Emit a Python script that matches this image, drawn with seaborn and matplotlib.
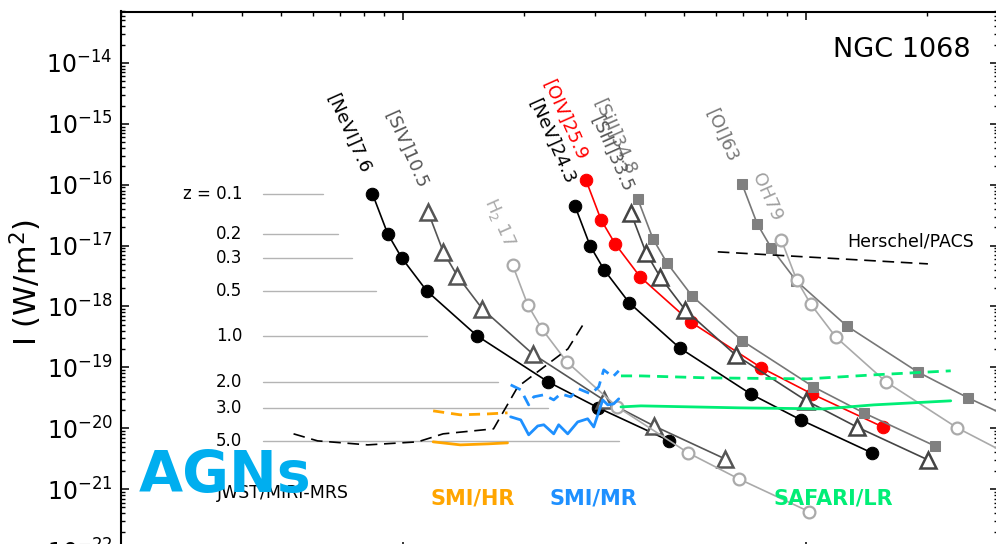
import numpy as np
import matplotlib
matplotlib.use("Agg")
import matplotlib.pyplot as plt
import matplotlib.ticker as mticker
import seaborn as sns

# ---------------------------------------------------------------- data
# redshifts sampled for every emission line
redshifts = [0.1, 0.2, 0.3, 0.5, 1.0, 2.0, 3.0, 5.0]
z_labels = ["z = 0.1", "0.2", "0.3", "0.5", "1.0", "2.0", "3.0", "5.0"]

# rest wavelengths (micron)
rest_wl = {
    "[NeVI]7.6": 7.65, "[SIV]10.5": 10.51, "H2 17": 17.03, "[NeV]24.3": 24.32,
    "[OIV]25.9": 25.89, "[SIII]33.5": 33.48, "[SiII]34.8": 34.82,
    "[OI]63": 63.18, "OH79": 79.1,
}

# line fluxes of NGC 1068 moved to each redshift (W/m^2)
nevi_7p6 = [7.06e-17, 1.56e-17, 6.28e-18, 1.80e-18, 3.29e-19, 5.78e-20, 2.16e-20, 6.21e-21]
siv_10p5 = [3.57e-17, 7.87e-18, 3.18e-18, 9.12e-19, 1.66e-19, 2.92e-20, 1.09e-20, 3.14e-21]
h2_17 = [4.82e-18, 1.06e-18, 4.29e-19, 1.23e-19, 2.24e-20, 3.94e-21, 1.48e-21, 4.24e-22]
nev_24p3 = [4.49e-17, 9.89e-18, 3.99e-18, 1.15e-18, 2.09e-19, 3.67e-20, 1.37e-20, 3.94e-21]
oiv_25p9 = [1.20e-16, 2.64e-17, 1.07e-17, 3.06e-18, 5.58e-19, 9.82e-20, 3.67e-20, 1.05e-20]
siii_33p5 = [3.44e-17, 7.59e-18, 3.06e-18, 8.79e-19, 1.60e-19, 2.82e-20, 1.05e-20, 3.03e-21]
siii_34p8 = [5.85e-17, 1.29e-17, 5.20e-18, 1.49e-18, 2.72e-19, 4.79e-20, 1.79e-20, 5.14e-21]
oi_63 = [1.03e-16, 2.27e-17, 9.16e-18, 2.63e-18, 4.80e-19, 8.43e-20, 3.16e-20, 9.06e-21]
oh_79 = [1.24e-17, 2.74e-18, 1.10e-18, 3.17e-19, 5.78e-20, 1.02e-20, 3.80e-21, 1.09e-21]

# redshift guide lines (start / end wavelength, micron)
guide_start = 4.5
guide_end = [6.33, 6.9, 7.47, 8.6, 11.5, 17.2, 23.0, 34.4]

# instrument sensitivities
miri_wl = [5.36, 6.15, 8.19, 10.9, 12.6, 16.8, 19.3, 25.7, 28.1]
miri_flux = [8.09e-21, 6.2e-21, 5.33e-21, 5.98e-21, 8.09e-21, 9.77e-21, 4.79e-20, 2.01e-19, 5.18e-19]

hr_wl = [11.9, 13.9, 16.3, 18.2]
hr_upper = [1.93e-20, 1.66e-20, 1.72e-20, 1.79e-20]
hr_lower = [5.98e-21, 5.33e-21, 5.54e-21, 5.75e-21]

mr_upper_wl = [18.53, 19.63, 20.54, 21.14, 22.39, 23.70, 24.66, 26.12, 27.34, 29.28, 30.65, 31.54, 33.21, 34.36]
mr_upper = [5.16e-20, 4.28e-20, 2.42e-20, 3.28e-20, 3.54e-20, 2.92e-20, 3.67e-20, 3.28e-20, 4.43e-20,
            3.67e-20, 4.79e-20, 9.10e-20, 6.98e-20, 8.77e-20]
mr_lower_wl = [18.53, 19.63, 20.54, 21.63, 22.39, 23.70, 24.38, 25.67, 27.18, 28.77, 29.79, 31.36, 32.27, 33.40, 34.36]
mr_lower = [1.54e-20, 1.37e-20, 7.80e-21, 1.09e-20, 1.14e-20, 8.09e-21, 1.14e-20, 8.09e-21, 1.27e-20,
            1.43e-20, 1.05e-20, 2.92e-20, 2.42e-20, 2.52e-20, 3.04e-20]

safari_up_wl = [34.8, 39.0, 57.2, 101.0, 147.6, 229.0]
safari_upper = [7.24e-20, 7.24e-20, 6.72e-20, 6.47e-20, 7.53e-20, 8.77e-20]
safari_lo_wl = [34.8, 39.0, 69.0, 111.0, 147.6, 229.0]
safari_lower = [2.24e-20, 2.33e-20, 2.16e-20, 2.08e-20, 2.42e-20, 2.82e-20]

pacs_wl = [60.5, 201.0]
pacs_flux = [7.89e-18, 5.01e-18]

# ---------------------------------------------------------------- style
sns.set_theme(style="ticks", rc={
    "axes.linewidth": 1.5,
    "axes.edgecolor": "black", "axes.labelcolor": "black", "text.color": "black",
    "xtick.color": "black", "ytick.color": "black",
    "xtick.direction": "in", "ytick.direction": "in",
    "xtick.top": True, "ytick.right": True,
    "xtick.major.size": 6, "ytick.major.size": 6,
    "xtick.minor.size": 3, "ytick.minor.size": 3,
    "xtick.major.width": 1.1, "ytick.major.width": 1.1,
    "xtick.minor.width": 1.0, "ytick.minor.width": 1.0,
    "xtick.labelsize": 17, "ytick.labelsize": 17,
    "ytick.major.pad": 6,
})
plt.rcParams["font.family"] = ["DejaVu Sans"]

W, H = 996, 544
fig = plt.figure(figsize=(W / 100, H / 100), dpi=100)
ax = fig.add_axes([121 / W, (H - 550) / H, 877 / W, 538.5 / H])
ax.set_xscale("log")
ax.set_yscale("log")
ax.set_xlim(2, 300)
ax.set_ylim(1e-22, 7e-14)

ax.yaxis.set_major_locator(mticker.LogLocator(base=10, numticks=20))
ax.yaxis.set_minor_locator(mticker.LogLocator(base=10, subs=np.arange(2, 10), numticks=20))
ax.xaxis.set_major_locator(mticker.LogLocator(base=10, numticks=20))
ax.xaxis.set_minor_locator(mticker.LogLocator(base=10, subs=np.arange(2, 10), numticks=20))
ax.tick_params(axis="x", labelbottom=False)

# redshift guide lines with their labels
for zl, f, wend in zip(z_labels, nevi_7p6, guide_end):
    sns.lineplot(x=[guide_start, wend], y=[f, f], ax=ax, color="#b4b4b4", lw=1.0,
                 estimator=None, sort=False, zorder=1)
    ax.text(4.0, f, zl, ha="right", va="center", fontsize=12, color="black")

# emission-line tracks
tracks = [
    ("[NeVI]7.6", nevi_7p6, dict(color="black", marker="o", ms=9, mfc="black", mec="black")),
    ("[SIV]10.5", siv_10p5, dict(color="#555555", marker="^", ms=11, mfc="white", mec="#555555", mew=1.8)),
    ("H2 17", h2_17, dict(color="#aaaaaa", marker="o", ms=8.5, mfc="white", mec="#aaaaaa", mew=1.6)),
    ("[NeV]24.3", nev_24p3, dict(color="black", marker="o", ms=9, mfc="black", mec="black")),
    ("[OIV]25.9", oiv_25p9, dict(color="red", marker="o", ms=9, mfc="red", mec="red")),
    ("[SIII]33.5", siii_33p5, dict(color="#444444", marker="^", ms=11, mfc="white", mec="#444444", mew=1.8)),
    ("[SiII]34.8", siii_34p8, dict(color="#777777", marker="s", ms=7.5, mfc="#808080", mec="#808080")),
    ("[OI]63", oi_63, dict(color="#777777", marker="s", ms=7.5, mfc="#808080", mec="#808080")),
    ("OH79", oh_79, dict(color="#aaaaaa", marker="o", ms=8.5, mfc="white", mec="#aaaaaa", mew=1.6)),
]
for name, flux, kw in tracks:
    wl = [rest_wl[name] * (1 + z) for z in redshifts]
    sns.lineplot(x=wl, y=flux, ax=ax, lw=1.2, estimator=None, sort=False, zorder=3, **kw)

# line names, written along the tracks
label_pos = [
    ("[NeVI]7.6", 6.66, 2.98e-15, "black"),
    ("[SIV]10.5", 9.28, 1.57e-15, "#555555"),
    ("H$_2$ 17", 16.35, 5.85e-17, "#aaaaaa"),
    ("[OIV]25.9", 22.77, 5.06e-15, "red"),
    ("[NeV]24.3", 21.02, 2.47e-15, "black"),
    ("[SiII]34.8", 30.47, 2.47e-15, "#777777"),
    ("[SIII]33.5", 29.95, 1.30e-15, "#555555"),
    ("[OI]63", 57.8, 1.69e-15, "#777777"),
    ("OH79", 75.6, 1.50e-16, "#a0a0a0"),
]
for txt, lx, ly, c in label_pos:
    ax.text(lx, ly, txt, rotation=-66, rotation_mode="anchor", ha="left", va="center",
            fontsize=13, color=c, zorder=5)

# instrument sensitivity curves
sns.lineplot(x=miri_wl, y=miri_flux, ax=ax, color="black", lw=1.2,
             estimator=None, sort=False, zorder=4).lines[-1].set_dashes([7, 4])
sns.lineplot(x=hr_wl, y=hr_upper, ax=ax, color="#ffa500", lw=2.0,
             estimator=None, sort=False, zorder=4).lines[-1].set_dashes([4, 2.5])
sns.lineplot(x=hr_wl, y=hr_lower, ax=ax, color="#ffa500", lw=2.0,
             estimator=None, sort=False, zorder=4)
sns.lineplot(x=mr_upper_wl, y=mr_upper, ax=ax, color="#1e90ff", lw=2.0,
             estimator=None, sort=False, zorder=4).lines[-1].set_dashes([4, 2.5])
sns.lineplot(x=mr_lower_wl, y=mr_lower, ax=ax, color="#1e90ff", lw=2.0,
             estimator=None, sort=False, zorder=4)
sns.lineplot(x=safari_up_wl, y=safari_upper, ax=ax, color="#00ee76", lw=2.0,
             estimator=None, sort=False, zorder=4).lines[-1].set_dashes([4, 2.5])
sns.lineplot(x=safari_lo_wl, y=safari_lower, ax=ax, color="#00ee76", lw=2.0,
             estimator=None, sort=False, zorder=4)
sns.lineplot(x=pacs_wl, y=pacs_flux, ax=ax, color="black", lw=1.2,
             estimator=None, sort=False, zorder=4).lines[-1].set_dashes([7, 4])

# instrument names and annotations
ax.text(7.35, 7.19e-22, "JWST/MIRI-MRS", ha="right", va="baseline", fontsize=12.5, color="black", zorder=6)
ax.text(2.21, 9.04e-22, "AGNs", ha="left", va="baseline", fontsize=41, fontweight="bold",
        color="#00aeef", zorder=7)
ax.text(11.73, 5.52e-22, "SMI/HR", ha="left", va="baseline", fontsize=15, fontweight="bold", color="#ffa500")
ax.text(23.17, 5.52e-22, "SMI/MR", ha="left", va="baseline", fontsize=15, fontweight="bold", color="#1e90ff")
ax.text(83.3, 5.52e-22, "SAFARI/LR", ha="left", va="baseline", fontsize=15, fontweight="bold", color="#00ee76")
ax.text(261, 9.53e-18, "Herschel/PACS", ha="right", va="baseline", fontsize=12.5, color="black")
ax.text(256.5, 1.256e-14, "NGC 1068", ha="right", va="baseline", fontsize=19.5, color="black")

ax.set_xlabel("")
ax.set_ylabel("")
fig.text(26 / W, 1 - 283 / H, "I (W/m$^2$)", rotation=90, ha="center", va="center", fontsize=22,
         color="black")

fig.savefig("out.png", dpi=100)
